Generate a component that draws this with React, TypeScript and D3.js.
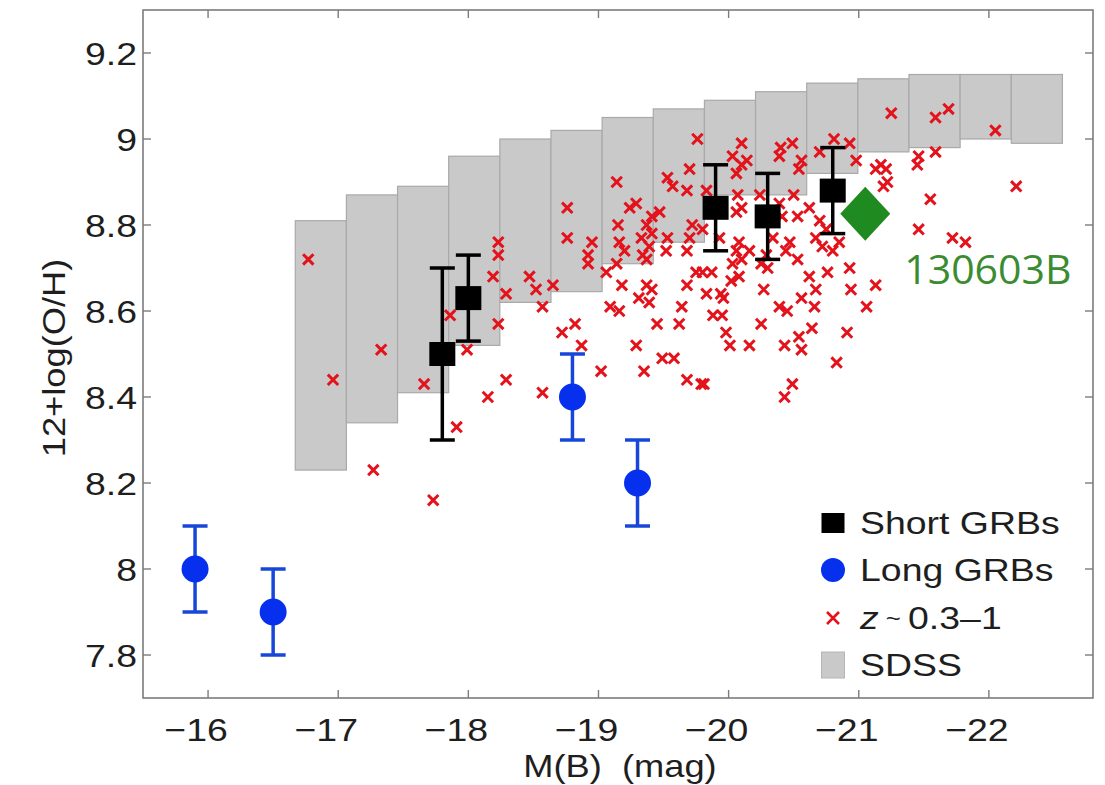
import React from "react";
import * as d3 from "d3";

// ---------- data ----------
const xTicks = [-16, -17, -18, -19, -20, -21, -22];
const yTicks = [7.8, 8, 8.2, 8.4, 8.6, 8.8, 9, 9.2];

// SDSS bins (M(B) edges, top and bottom of 12+log(O/H) range)
const sdssEdges = [-16.67, -17.063, -17.456, -17.849, -18.242, -18.635, -19.028, -19.421, -19.814, -20.207, -20.6, -20.993, -21.386, -21.779, -22.172, -22.565];
const sdssTop = [8.81, 8.87, 8.89, 8.96, 9.0, 9.02, 9.05, 9.07, 9.09, 9.11, 9.13, 9.14, 9.15, 9.15, 9.15];
const sdssBottom = [8.23, 8.34, 8.41, 8.52, 8.62, 8.645, 8.71, 8.76, 8.87, 8.87, 8.92, 8.97, 8.98, 9.0, 8.99];

// z ~ 0.3-1 galaxies
const zMag = [
  -16.77, -16.96, -17.33, -17.27, -17.66, -17.73, -17.86, -17.99, -17.91, -18.15,
  -18.29, -18.23, -18.23, -18.19, -18.29, -18.23, -18.47, -18.52, -18.65, -18.57,
  -18.57, -18.76, -18.76, -18.72, -18.82, -18.87, -19.02, -18.95, -18.92, -18.92,
  -19.06, -19.09, -19.14, -19.15, -19.16, -19.2, -19.14, -19.37, -19.18, -19.37,
  -19.41, -19.31, -19.39, -19.16, -19.68, -19.75, -19.64, -19.45, -19.62, -19.29,
  -19.49, -19.58, -19.35, -19.68, -19.79, -19.76, -19.7, -19.53, -19.57, -19.68,
  -19.24, -19.29, -19.47, -19.41, -19.37, -19.33, -19.39, -19.53, -19.52, -19.72,
  -19.7, -19.68, -19.34, -19.41, -20.1, -20.03, -20.14, -20.06, -20.1, -20.4,
  -20.49, -20.39, -20.56, -20.54, -20.7, -20.81, -20.93, -20.98, -21.13, -19.83,
  -20.07, -20.1, -20.06, -20.24, -20.5, -20.62, -20.53, -20.41, -20.39, -20.7,
  -20.75, -19.8, -19.93, -20.08, -20.06, -20.47, -20.44, -20.34, -20.67, -20.72,
  -20.8, -20.85, -20.16, -20.29, -21.25, -21.59, -21.69, -22.05, -21.46, -21.45,
  -21.59, -21.17, -21.21, -21.22, -21.19, -22.21, -21.55, -21.46, -21.72, -21.82,
  -19.8, -19.87, -20.03, -20.08, -20.02, -20.1, -20.3, -20.25, -20.53, -20.62,
  -20.76, -20.93, -20.94, -20.67, -21.13, -19.83, -19.94, -19.96, -20.27, -20.39,
  -20.45, -20.56, -20.66, -21.06, -19.88, -19.95, -20.25, -19.98, -20.64, -20.54,
  -20.91, -20.01, -20.16, -20.43, -20.56, -20.83, -19.81, -20.49, -20.43,
];
const zOH = [
  8.72, 8.44, 8.51, 8.23, 8.43, 8.16, 8.59, 8.51, 8.33, 8.4,
  8.44, 8.76, 8.73, 8.68, 8.64, 8.57, 8.68, 8.65, 8.66, 8.61,
  8.41, 8.84, 8.77, 8.55, 8.57, 8.52, 8.46, 8.76, 8.73, 8.71,
  8.69, 8.61, 8.9, 8.8, 8.76, 8.74, 8.71, 8.72, 8.66, 8.66,
  8.65, 8.63, 8.62, 8.6, 8.66, 8.69, 8.61, 8.57, 8.57, 8.52,
  8.49, 8.49, 8.46, 8.44, 8.43, 9.0, 8.93, 8.91, 8.89, 8.88,
  8.84, 8.85, 8.83, 8.82, 8.8, 8.77, 8.75, 8.77, 8.74, 8.8,
  8.77, 8.74, 8.73, 8.78, 8.99, 8.96, 8.95, 8.92, 8.94, 8.98,
  8.99, 8.96, 8.95, 8.93, 8.97, 9.0, 8.99, 8.95, 8.93, 8.88,
  8.87, 8.84, 8.83, 8.87, 8.87, 8.84, 8.82, 8.82, 8.85, 8.81,
  8.79, 8.79, 8.77, 8.76, 8.74, 8.76, 8.74, 8.77, 8.77, 8.75,
  8.74, 8.76, 8.74, 8.73, 9.06, 9.05, 9.07, 9.02, 8.96, 8.94,
  8.97, 8.94, 8.93, 8.9, 8.89, 8.89, 8.86, 8.79, 8.77, 8.76,
  8.69, 8.69, 8.71, 8.68, 8.67, 8.72, 8.7, 8.71, 8.72, 8.68,
  8.69, 8.7, 8.65, 8.65, 8.66, 8.64, 8.64, 8.63, 8.65, 8.61,
  8.6, 8.63, 8.61, 8.61, 8.59, 8.59, 8.57, 8.55, 8.56, 8.54,
  8.55, 8.52, 8.52, 8.52, 8.51, 8.48, 8.43, 8.43, 8.4,
];

// Short GRBs
const shortMag = [-17.8, -18.0, -19.9, -20.3, -20.8];
const shortOH = [8.5, 8.63, 8.84, 8.82, 8.88];
const shortErr = [0.2, 0.1, 0.1, 0.1, 0.1];

// Long GRBs
const longMag = [-15.9, -16.5, -18.8, -19.3];
const longOH = [8.0, 7.9, 8.4, 8.2];
const longErr = [0.1, 0.1, 0.1, 0.1];

// GRB 130603B
const grbMag = [-21.05];
const grbOH = [8.826];
const grbLabel = "130603B";

const legendLabels = ["Short GRBs", "Long GRBs", "z ~ 0.3–1", "SDSS"];

// ---------- layout ----------
const W = 1105;
const H = 785;
const left = 143, right = 1093, top = 10, bottom = 698;

const x = d3.scaleLinear().domain([-15.5, -22.8]).range([left, right]);
const y = d3.scaleLinear().domain([7.7, 9.3]).range([bottom, top]);

const FONT = "'Liberation Sans', Arial, Helvetica, sans-serif";
const SX = 1.17;
const TXT = "#1e1e1e";
const AX = "#7c7c7c";

const STxt = ({ x0, y0, anchor = "start", size = 32, children, fill = TXT, rotate = 0 }: any) => (
  <text
    transform={`translate(${x0},${y0}) rotate(${rotate}) scale(${SX},1)`}
    textAnchor={anchor}
    fontFamily={FONT}
    fontSize={size}
    fill={fill}
    style={{ whiteSpace: "pre" }}
  >
    {children}
  </text>
);

export default function App() {
  const cross = (cx: number, cy: number, s: number) =>
    `M${cx - s},${cy - s}L${cx + s},${cy + s}M${cx - s},${cy + s}L${cx + s},${cy - s}`;
  const red = "#e3121b";
  const blue = "#0630ee";
  const blueBar = "#1747d8";
  const capW = 12.5;
  const tickLen = 8;

  const legX = 833;
  const legY = [523, 570, 618, 665];

  return (
    <svg
      width={W}
      height={H}
      style={{ position: "absolute", left: 0, top: 0, background: "#fff" }}
    >
      <rect x={0} y={0} width={W} height={H} fill="#fff" />

      {/* SDSS boxes */}
      {sdssTop.map((t, i) => (
        <rect
          key={"s" + i}
          x={x(sdssEdges[i])}
          y={y(t)}
          width={x(sdssEdges[i + 1]) - x(sdssEdges[i])}
          height={y(sdssBottom[i]) - y(t)}
          fill="#c9c9c9"
          stroke="#a9a9a9"
          strokeWidth={1.2}
        />
      ))}

      {/* z ~ 0.3-1 crosses */}
      {zMag.map((m, i) => (
        <path key={"z" + i} d={cross(x(m), y(zOH[i]), 5.2)} stroke={red} strokeWidth={3} fill="none" />
      ))}

      {/* Long GRBs */}
      {longMag.map((m, i) => {
        const cx = x(m);
        const y1 = y(longOH[i] + longErr[i]);
        const y2 = y(longOH[i] - longErr[i]);
        return (
          <g key={"l" + i}>
            <line x1={cx} x2={cx} y1={y1} y2={y2} stroke={blueBar} strokeWidth={3.5} />
            <line x1={cx - capW} x2={cx + capW} y1={y1} y2={y1} stroke={blueBar} strokeWidth={3.5} />
            <line x1={cx - capW} x2={cx + capW} y1={y2} y2={y2} stroke={blueBar} strokeWidth={3.5} />
            <circle cx={cx} cy={y(longOH[i])} r={13.5} fill={blue} />
          </g>
        );
      })}

      {/* Short GRBs */}
      {shortMag.map((m, i) => {
        const cx = x(m);
        const y1 = y(shortOH[i] + shortErr[i]);
        const y2 = y(shortOH[i] - shortErr[i]);
        return (
          <g key={"sh" + i}>
            <line x1={cx} x2={cx} y1={y1} y2={y2} stroke="#000" strokeWidth={3.5} />
            <line x1={cx - capW} x2={cx + capW} y1={y1} y2={y1} stroke="#000" strokeWidth={3.5} />
            <line x1={cx - capW} x2={cx + capW} y1={y2} y2={y2} stroke="#000" strokeWidth={3.5} />
            <rect x={cx - 13} y={y(shortOH[i]) - 12} width={26} height={24} fill="#000" />
          </g>
        );
      })}

      {/* GRB 130603B */}
      {grbMag.map((m, i) => {
        const cx = x(m);
        const cy = y(grbOH[i]);
        return (
          <g key={"g" + i}>
            <path d={`M${cx},${cy - 27}L${cx + 25},${cy}L${cx},${cy + 27}L${cx - 25},${cy}Z`} fill="#1f8a1f" />
            <text x={cx + 39} y={cy + 70} fontFamily="'Open Sans', 'Noto Sans', sans-serif" fontSize={41} fill="#3b8c30">
              {grbLabel}
            </text>
          </g>
        );
      })}

      {/* frame */}
      <rect x={left} y={top} width={right - left} height={bottom - top} fill="none" stroke={AX} strokeWidth={1.6} />

      {/* x ticks */}
      {xTicks.map((t) => (
        <g key={"xt" + t}>
          <line x1={x(t)} x2={x(t)} y1={bottom} y2={bottom - tickLen} stroke={AX} strokeWidth={1.4} />
          <line x1={x(t)} x2={x(t)} y1={top} y2={top + tickLen} stroke={AX} strokeWidth={1.4} />
          <STxt x0={x(t) - 12} y0={741} anchor="middle">
            {"\u2212" + Math.abs(t)}
          </STxt>
        </g>
      ))}

      {/* y ticks */}
      {yTicks.map((t) => (
        <g key={"yt" + t}>
          <line x1={left} x2={left + tickLen} y1={y(t)} y2={y(t)} stroke={AX} strokeWidth={1.4} />
          <line x1={right} x2={right - tickLen} y1={y(t)} y2={y(t)} stroke={AX} strokeWidth={1.4} />
          <STxt x0={137} y0={y(t) + 12} anchor="end">
            {d3.format("~g")(t)}
          </STxt>
        </g>
      ))}

      {/* axis titles */}
      <STxt x0={620} y0={777} anchor="middle" size={31}>
        {"M(B)  (mag)"}
      </STxt>
      <text
        transform={`translate(65,358) rotate(-90) scale(${SX},1)`}
        textAnchor="middle"
        fontFamily={FONT}
        fontSize={31}
        fill={TXT}
      >
        12+log(O/H)
      </text>

      {/* legend */}
      <g>
        <rect x={legX - 11.5} y={legY[0] - 10} width={23} height={20} fill="#000" />
        <circle cx={legX} cy={legY[1]} r={12} fill={blue} />
        <path d={cross(legX, legY[2], 6)} stroke={red} strokeWidth={2.6} fill="none" />
        <rect x={legX - 11.5} y={legY[3] - 13} width={23} height={26} fill="#c9c9c9" stroke="#b5b5b5" strokeWidth={1} />
        <STxt x0={860} y0={legY[0] + 11}>{legendLabels[0]}</STxt>
        <STxt x0={860} y0={legY[1] + 11}>{legendLabels[1]}</STxt>
        <text
          transform={`translate(860,${legY[2] + 11}) scale(${SX},1)`}
          fontFamily={FONT}
          fontSize={32}
          fill={TXT}
        >
          <tspan fontStyle="italic">z</tspan>
          <tspan fontSize={22} dy={-3}> ~ </tspan>
          <tspan dy={3}>0.3–1</tspan>
        </text>
        <STxt x0={860} y0={legY[3] + 11}>{legendLabels[3]}</STxt>
      </g>
    </svg>
  );
}
